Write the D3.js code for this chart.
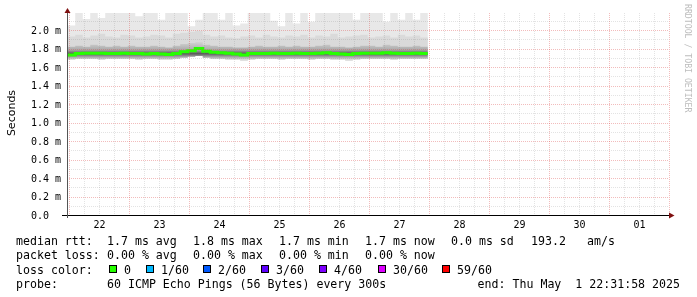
<!DOCTYPE html>
<html>
<head>
<meta charset="utf-8">
<title>SmokePing latency</title>
<script src="https://d3js.org/d3.v7.min.js"></script>
<style>
  body { margin: 0; background: #fff; }
  svg { will-change: transform; }
  svg text { font-family: "DejaVu Sans Mono", monospace; fill: #000; white-space: pre; }
</style>
</head>
<body>
<script>
// 3-hourly buckets starting Apr 21 23:30 UTC, values in ms
const medianRtt = [1.73,1.745,1.75,1.75,1.75,1.745,1.745,1.75,1.745,1.745,1.74,1.745,
                   1.74,1.735,1.745,1.765,1.775,1.80,1.77,1.76,1.755,1.75,1.74,1.73,
                   1.745,1.745,1.745,1.75,1.745,1.745,1.75,1.745,1.745,1.75,1.755,1.745,
                   1.74,1.735,1.745,1.75,1.75,1.75,1.755,1.75,1.745,1.745,1.75,1.745];
const smokeMax = [2.05,2.2,2.12,2.2,2.13,2.2,2.2,2.2,2.2,2.15,2.2,2.2,
                  2.11,2.2,2.2,2.2,2.04,2.11,2.2,2.2,2.11,2.2,2.05,2.07,
                  2.2,2.2,2.2,2.1,2.04,2.2,2.07,2.2,2.09,2.2,2.2,2.2,
                  2.2,2.2,2.11,2.2,2.2,2.2,2.09,2.2,2.11,2.2,2.11,2.2];
const smokeP90 = [1.93,1.95,1.92,1.94,1.96,1.93,1.92,1.95,1.94,1.92,1.93,1.95,
                  1.94,1.92,1.96,1.97,1.98,1.99,1.95,1.93,1.94,1.92,1.91,1.93,
                  1.94,1.92,1.95,1.93,1.92,1.94,1.93,1.95,1.92,1.94,1.93,1.96,
                  1.92,1.93,1.94,1.95,1.92,1.93,1.94,1.92,1.95,1.93,1.94,1.92];
const smokeP75 = [1.82,1.83,1.82,1.84,1.83,1.82,1.83,1.82,1.83,1.82,1.82,1.83,
                  1.82,1.81,1.83,1.85,1.86,1.87,1.84,1.83,1.82,1.82,1.81,1.81,
                  1.82,1.83,1.82,1.82,1.83,1.82,1.83,1.82,1.82,1.83,1.84,1.82,
                  1.82,1.81,1.82,1.83,1.83,1.82,1.84,1.83,1.82,1.82,1.83,1.82];
const smokeMin = [1.68,1.69,1.69,1.69,1.68,1.69,1.69,1.69,1.69,1.68,1.69,1.69,
                  1.68,1.68,1.69,1.70,1.71,1.72,1.70,1.69,1.69,1.68,1.68,1.67,
                  1.68,1.69,1.69,1.69,1.68,1.69,1.69,1.69,1.68,1.69,1.69,1.68,
                  1.68,1.67,1.68,1.69,1.69,1.69,1.69,1.68,1.69,1.69,1.69,1.69];

const yTicks = [0, 0.2, 0.4, 0.6, 0.8, 1.0, 1.2, 1.4, 1.6, 1.8, 2.0];
const yTickLabels = ["0.0", "0.2 m", "0.4 m", "0.6 m", "0.8 m", "1.0 m", "1.2 m", "1.4 m", "1.6 m", "1.8 m", "2.0 m"];
const dayLabels = ["22", "23", "24", "25", "26", "27", "28", "29", "30", "01"];

const statNames = ["avg", "max", "min", "now", "sd"];
const rttStats = ["1.7", "1.8", "1.7", "1.7", "0.0"];
const lossStats = ["0.00", "0.00", "0.00", "0.00"];
const amsValue = "193.2";
const lossLabels = ["0", "1/60", "2/60", "3/60", "4/60", "30/60", "59/60"];
const lossColors = ["#26ff00", "#00b8ff", "#0059ff", "#5e00ff", "#7e00ff", "#dd00ff", "#ff0000"];

const W = 697, H = 297;
const plotL = 67, plotR = 669, plotT = 13, plotB = 215;

const svg = d3.select("body").append("svg").attr("width", W).attr("height", H);
svg.append("rect").attr("width", W).attr("height", H).attr("fill", "#fff");

const x = d3.scaleUtc()
    .domain([new Date(Date.UTC(2025, 3, 22)), new Date(Date.UTC(2025, 4, 2))])
    .range([69, 669]);
const y = d3.scaleLinear().domain([0, 2]).range([215, 30]);

svg.append("defs").append("clipPath").attr("id", "plot")
    .append("rect").attr("x", plotL).attr("y", plotT)
    .attr("width", plotR - plotL).attr("height", plotB - plotT);

// rows of the table, one extra at the end so the last step gets its width
const t0 = Date.UTC(2025, 3, 21, 23, 30);
const step = 3 * 3600 * 1000;
const rows = medianRtt.map((m, i) => ({
    t: new Date(t0 + i * step), med: m,
    max: smokeMax[i], p90: smokeP90[i], p75: smokeP75[i], min: smokeMin[i]
}));
rows.push(Object.assign({}, rows[rows.length - 1], {t: new Date(t0 + rows.length * step)}));

const grad = svg.select("defs").append("linearGradient")
    .attr("id", "core").attr("gradientUnits", "userSpaceOnUse")
    .attr("x1", 0).attr("x2", 0).attr("y1", y(1.87)).attr("y2", y(1.68));
grad.append("stop").attr("offset", 0).attr("stop-color", "#d4d4d4");
grad.append("stop").attr("offset", 0.45).attr("stop-color", "#aaaaaa");
grad.append("stop").attr("offset", 0.66).attr("stop-color", "#5a5a5a");
grad.append("stop").attr("offset", 0.85).attr("stop-color", "#a8a8a8");
grad.append("stop").attr("offset", 1).attr("stop-color", "#dadada");

const smoke = svg.append("g").attr("clip-path", "url(#plot)");
const band = key => d3.area().curve(d3.curveStepAfter)
    .x(d => x(d.t)).y0(d => y(d.min)).y1(d => y(d[key]));
smoke.append("path").datum(rows).attr("d", band("max")).attr("fill", "#e8e8e8");
smoke.append("path").datum(rows).attr("d", band("p90")).attr("fill", "#dadada");
smoke.append("path").datum(rows).attr("d", band("p75")).attr("fill", "url(#core)");

// grid
const minorCol = "rgba(128,128,128,0.22)", majorCol = "rgba(222,80,80,0.38)";
const grid = svg.append("g").attr("stroke-dasharray", "1,1").attr("stroke-width", 1);
const vStart = x.invert(plotL), vEnd = x.invert(plotR + 1);
d3.utcHour.every(6).range(vStart, vEnd).forEach(d => {
    const major = d.getUTCHours() === 0;
    grid.append("line")
        .attr("x1", Math.round(x(d)) + 0.5).attr("x2", Math.round(x(d)) + 0.5)
        .attr("y1", plotT).attr("y2", plotB)
        .attr("stroke", major ? majorCol : minorCol);
});
d3.range(1, 22).forEach(k => {
    const v = k / 10, yy = Math.round(y(v)) + 0.5;
    grid.append("line")
        .attr("x1", plotL).attr("x2", plotR).attr("y1", yy).attr("y2", yy)
        .attr("stroke", k % 2 === 0 ? majorCol : minorCol);
});

// median
const medLine = d3.line().curve(d3.curveStepAfter).x(d => x(d.t)).y(d => y(d.med));
smoke.append("path").datum(rows).attr("d", medLine)
    .attr("fill", "none").attr("stroke", "#26ff00").attr("stroke-width", 3);

// axes lines and arrows
svg.append("line").attr("x1", 62).attr("x2", plotR + 1).attr("y1", 215.5).attr("y2", 215.5)
    .attr("stroke", "#000");
svg.append("line").attr("x1", 67.5).attr("x2", 67.5).attr("y1", 218).attr("y2", 12)
    .attr("stroke", "#555");
svg.append("path").attr("d", "M669,212.5 L674.5,215.5 L669,218.5 Z").attr("fill", "#7f1010");
svg.append("path").attr("d", "M64.5,13 L67.5,8 L70.5,13 Z").attr("fill", "#7f1010");

const dayNoons = dayLabels.map((s, i) => new Date(Date.UTC(2025, 3, 22 + i, 12)));
const xAxis = svg.append("g").attr("transform", `translate(0,${plotB})`)
    .call(d3.axisBottom(x).tickValues(dayNoons).tickFormat((d, i) => dayLabels[i])
        .tickSize(0).tickPadding(6));
xAxis.select(".domain").remove();
xAxis.selectAll("text").attr("font-size", 10).attr("font-family", "DejaVu Sans Mono")
    .attr("fill", "#000");

const yAxis = svg.append("g").attr("transform", `translate(${plotL},0)`)
    .call(d3.axisLeft(y).tickValues(yTicks).tickFormat((d, i) => yTickLabels[i]).tickSize(0));
yAxis.select(".domain").remove();
yAxis.selectAll("text").attr("font-size", 10).attr("font-family", "DejaVu Sans Mono")
    .attr("fill", "#000").attr("text-anchor", "start").attr("x", 31 - plotL);

svg.append("text").attr("transform", "translate(14.5,113) rotate(-90)")
    .attr("text-anchor", "middle").style("font-family", "'DejaVu Sans', sans-serif")
    .attr("font-size", 11).text("Seconds");

svg.append("text").attr("transform", "translate(685,4) rotate(90)")
    .attr("font-size", 8.2).style("fill", "#bdbdbd").text("RRDTOOL / TOBI OETIKER");

// legend
const leg = svg.append("g").attr("font-size", 11.6);
const colX = [107, 193, 279, 365, 451];
const put = (xx, yy, s) => leg.append("text").attr("x", xx).attr("y", yy).text(s);

put(16, 245, "median rtt:");
statNames.forEach((n, i) => put(colX[i], 245, `${rttStats[i]} ms ${n}`));
put(531, 245, amsValue);
put(587, 245, "am/s");

put(16, 259, "packet loss:");
lossStats.forEach((v, i) => put(colX[i], 259, `${v} % ${statNames[i]}`));

put(16, 273.5, "loss color:");
const boxX = [109, 146, 203, 261, 319, 378, 442];
lossLabels.forEach((s, i) => {
    leg.append("rect").attr("x", boxX[i] + 0.5).attr("y", 265.5).attr("width", 7).attr("height", 7)
        .attr("fill", lossColors[i]).attr("stroke", "#000");
    put(boxX[i] + 15, 273.5, s);
});

put(16, 288, "probe:");
put(107, 288, "60 ICMP Echo Pings (56 Bytes) every 300s");
put(680, 288, "end: Thu May  1 22:31:58 2025").attr("text-anchor", "end");
</script>
</body>
</html>
